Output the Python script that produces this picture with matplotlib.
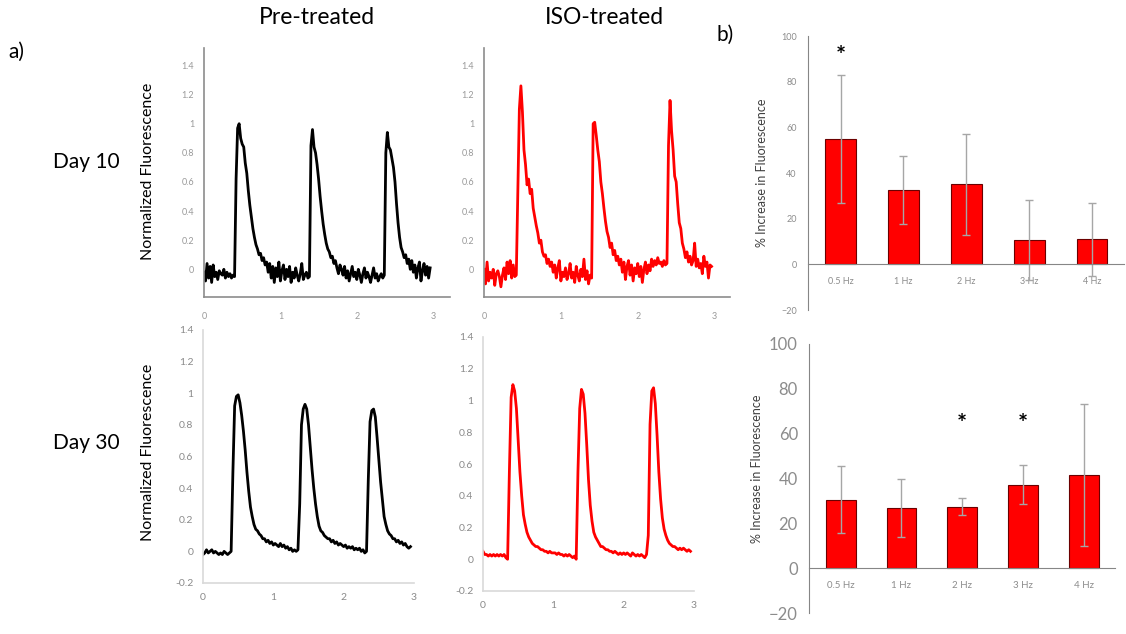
import numpy as np
import matplotlib
matplotlib.use('Agg')
import matplotlib.pyplot as plt

plt.rcParams['font.family'] = ['Lato', 'DejaVu Sans']

# ---- traces (time in s, normalized fluorescence) ----
t_day10 = np.round(np.arange(0, 2.961, 0.02), 3)
pre_day10 = [
    -0.02, -0.08, 0.04, -0.06, 0.02, -0.09, 0.03, -0.05, -0.02, -0.07,
    -0.01, -0.03, -0.04, 0.00, -0.06, -0.02, -0.05, -0.03, -0.06, -0.04,
    -0.05, 0.62, 0.97, 1.00, 0.90, 0.86, 0.84, 0.73, 0.66, 0.54,
    0.44, 0.36, 0.28, 0.22, 0.17, 0.14, 0.10, 0.11, 0.06, 0.08,
    0.03, 0.05, -0.02, 0.04, -0.06, 0.02, -0.09, 0.01, -0.05, 0.05,
    -0.08, -0.01, 0.03, -0.07, 0.00, -0.05, 0.02, -0.09, -0.02, -0.06,
    0.01, -0.04, -0.08, -0.03, 0.04, -0.07, -0.04, -0.02, -0.06, -0.05,
    0.85, 0.96, 0.84, 0.80, 0.72, 0.62, 0.50, 0.40, 0.31, 0.24,
    0.18, 0.14, 0.12, 0.08, 0.09, 0.04, 0.06, 0.01, -0.03, 0.03,
    0.00, -0.04, 0.02, -0.06, -0.01, -0.08, -0.03, 0.02, -0.05, -0.02,
    -0.07, 0.00, -0.04, -0.09, -0.03, 0.01, -0.06, -0.02, -0.05, -0.09,
    -0.04, 0.01, -0.06, -0.03, -0.08, -0.05, -0.03, -0.06, -0.04, 0.80,
    0.94, 0.84, 0.82, 0.76, 0.70, 0.60, 0.45, 0.32, 0.22, 0.15,
    0.12, 0.08, 0.10, 0.04, 0.07, 0.00, 0.06, -0.02, 0.03, -0.06,
    0.01, 0.05, -0.08, -0.01, 0.04, -0.04, 0.02, -0.06, 0.01,
]
iso_day10 = [
    0.00, -0.10, 0.05, -0.08, -0.02, -0.06, 0.00, -0.11, -0.03, -0.01,
    -0.05, -0.12, -0.04, 0.01, -0.07, 0.05, -0.03, 0.06, -0.06, 0.03,
    -0.05, -0.04, 0.55, 1.10, 1.26, 1.08, 0.82, 0.72, 0.58, 0.62,
    0.52, 0.55, 0.42, 0.36, 0.30, 0.25, 0.18, 0.20, 0.12, 0.09,
    0.10, 0.04, 0.07, 0.02, 0.05, -0.02, 0.03, -0.06, 0.01, 0.06,
    -0.08, -0.02, -0.05, 0.01, -0.07, -0.03, 0.04, -0.06, -0.02, -0.09,
    0.02, -0.04, -0.08, 0.00, -0.05, 0.07, -0.07, -0.01, -0.10, -0.04,
    -0.06, 1.00, 1.01, 0.92, 0.82, 0.74, 0.60, 0.52, 0.42, 0.33,
    0.26, 0.22, 0.15, 0.18, 0.10, 0.13, 0.06, 0.09, 0.03, 0.07,
    -0.02, 0.05, -0.07, 0.02, 0.06, -0.04, 0.03, -0.08, 0.01, -0.03,
    0.04, -0.05, 0.02, -0.09, 0.00, 0.05, -0.03, 0.03, -0.01, 0.07,
    0.02, 0.06, 0.03, 0.08, 0.04, 0.05, 0.02, 0.06, 0.03, 0.04,
    0.85, 1.16, 0.95, 0.82, 0.64, 0.60, 0.45, 0.32, 0.28, 0.18,
    0.14, 0.08, 0.12, 0.05, 0.09, 0.03, 0.06, 0.18, 0.02, 0.07,
    0.01, 0.04, -0.03, 0.09, 0.02, 0.05, -0.06, 0.03, 0.02,
]

t_day30 = np.round(np.arange(0, 2.951, 0.025), 3)
pre_day30 = [
    -0.02, -0.01, 0.01, -0.01, 0.00, 0.01, -0.01, 0.00,
    -0.01, -0.02, -0.01, -0.02, 0.00, -0.01, -0.02, -0.01,
    0.00, 0.50, 0.92, 0.98, 0.99, 0.94, 0.86, 0.76,
    0.64, 0.50, 0.38, 0.28, 0.22, 0.17, 0.14, 0.13,
    0.11, 0.10, 0.08, 0.08, 0.06, 0.07, 0.05, 0.06,
    0.04, 0.05, 0.04, 0.03, 0.05, 0.03, 0.04, 0.02,
    0.03, 0.01, 0.02, 0.00, 0.01, 0.00, 0.01, 0.30,
    0.80, 0.90, 0.93, 0.90, 0.80, 0.66, 0.52, 0.40,
    0.30, 0.22, 0.16, 0.13, 0.12, 0.10, 0.09, 0.08,
    0.08, 0.06, 0.07, 0.05, 0.06, 0.04, 0.05, 0.04,
    0.03, 0.04, 0.02, 0.03, 0.02, 0.03, 0.01, 0.02,
    0.01, 0.02, 0.00, 0.01, -0.01, 0.00, 0.45, 0.82,
    0.89, 0.90, 0.85, 0.72, 0.58, 0.44, 0.33, 0.22,
    0.17, 0.13, 0.11, 0.10, 0.08, 0.08, 0.06, 0.07,
    0.05, 0.06, 0.04, 0.05, 0.03, 0.02, 0.03,
]
iso_day30 = [
    0.05, 0.03, 0.03, 0.02, 0.03, 0.02, 0.03, 0.02,
    0.03, 0.02, 0.03, 0.02, 0.03, 0.01, 0.00, 0.55,
    1.02, 1.10, 1.06, 0.95, 0.75, 0.55, 0.40, 0.28,
    0.22, 0.17, 0.14, 0.12, 0.10, 0.09, 0.08, 0.08,
    0.07, 0.06, 0.06, 0.05, 0.05, 0.04, 0.05, 0.04,
    0.04, 0.04, 0.03, 0.04, 0.03, 0.03, 0.02, 0.03,
    0.02, 0.03, 0.02, 0.01, 0.02, 0.00, 0.55, 0.95,
    1.07, 1.04, 0.92, 0.72, 0.50, 0.34, 0.24, 0.17,
    0.14, 0.12, 0.10, 0.08, 0.08, 0.07, 0.06, 0.06,
    0.05, 0.05, 0.04, 0.05, 0.04, 0.03, 0.04, 0.03,
    0.04, 0.03, 0.04, 0.03, 0.02, 0.04, 0.03, 0.02,
    0.03, 0.02, 0.03, 0.02, 0.01, 0.03, 0.15, 0.85,
    1.06, 1.08, 0.98, 0.78, 0.55, 0.38, 0.26, 0.19,
    0.15, 0.12, 0.10, 0.09, 0.08, 0.08, 0.07, 0.06,
    0.07, 0.06, 0.07, 0.06, 0.05, 0.06, 0.05,
]

# ---- bar charts (% increase in fluorescence) ----
freqs = ['0.5 Hz', '1 Hz', '2 Hz', '3 Hz', '4 Hz']
inc_day10 = [55, 32.5, 35, 10.5, 11]
err_day10 = [28, 15, 22, 17.5, 16]
star_day10 = [0]
inc_day30 = [30.5, 26.7, 27.5, 37.3, 41.6]
err_day30 = [15, 13, 3.8, 8.7, 31.5]
star_day30 = [2, 3]

W, Hh = 1126, 634
fig = plt.figure(figsize=(W / 100, Hh / 100), dpi=100)


def box(l, r, t, b):
    return [l / W, 1 - b / Hh, (r - l) / W, (b - t) / Hh]


def trace(rect, t, y, color, ylim, yticks, xlim, spc, lab, fs):
    ax = fig.add_axes(rect)
    ax.plot(t, y, color=color, lw=2, solid_joinstyle='round')
    ax.set_xlim(xlim)
    ax.set_ylim(ylim)
    ax.set_yticks(yticks)
    ax.set_yticklabels([('%g' % v) for v in yticks])
    ax.set_xticks([0, 1, 2, 3])
    for s in ['top', 'right']:
        ax.spines[s].set_visible(False)
    for s in ['left', 'bottom']:
        ax.spines[s].set_color(spc)
        ax.spines[s].set_linewidth(1.2)
    ax.tick_params(length=0, labelsize=fs, colors=lab)
    ax.tick_params(axis='y', pad=7)
    ax.tick_params(axis='x', pad=11)
    return ax


ticks_top = [0, 0.2, 0.4, 0.6, 0.8, 1, 1.2, 1.4]
ticks_bot = [-0.2, 0, 0.2, 0.4, 0.6, 0.8, 1, 1.2, 1.4]

trace(box(204, 450, 48, 297), t_day10, pre_day10, 'black', (-0.19, 1.52),
      ticks_top, (0, 3.22), '#8c8c8c', '#9a9a9a', 6.5)
trace(box(484, 730, 48, 297), t_day10, iso_day10, '#ff0000', (-0.19, 1.52),
      ticks_top, (0, 3.2), '#8c8c8c', '#9a9a9a', 6.5)
a3 = trace(box(203, 414, 330, 583), t_day30, pre_day30, 'black', (-0.2, 1.4),
           ticks_bot, (0, 3.0), '#d9d9d9', '#8a8a8a', 7.5)
a4 = trace(box(483, 694, 337, 591), t_day30, iso_day30, '#ff0000', (-0.2, 1.4),
           ticks_bot, (0, 3.0), '#d9d9d9', '#8a8a8a', 7.5)
for a in (a3, a4):
    a.tick_params(axis='x', pad=7)


def bars(rect, vals, errs, stars, star_y, yfs, xfs):
    ax = fig.add_axes(rect)
    x = np.arange(len(freqs))
    ax.bar(x, vals, width=0.49, color='#ff0000', edgecolor='#6b0000', lw=0.8,
           yerr=errs, error_kw=dict(ecolor='#a6a6a6', elinewidth=1,
                                    capsize=3, capthick=1))
    for i in stars:
        ax.text(i, star_y, '*', ha='center', va='center', fontsize=17,
                color='black', fontweight='bold')
    ax.set_xlim(-0.52, 4.51)
    ax.set_ylim(-20, 100)
    ax.set_yticks(range(-20, 101, 20))
    ax.set_xticks(x)
    ax.set_xticklabels(freqs)
    ax.spines['bottom'].set_position(('data', 0))
    for s in ['top', 'right']:
        ax.spines[s].set_visible(False)
    ax.spines['left'].set_color('#868686')
    ax.spines['bottom'].set_color('#868686')
    ax.tick_params(length=0, colors='#8c8c8c')
    ax.tick_params(axis='y', labelsize=yfs, pad=8)
    ax.tick_params(axis='x', labelsize=xfs, pad=9)
    return ax


bars(box(808, 1124, 36, 310), inc_day10, err_day10, star_day10, 91, 6.5, 6.5)
bars(box(809, 1115, 344, 613), inc_day30, err_day30, star_day30, 64, 12, 7)

# ---- text labels ----
fig.text(317 / W, 1 - 18 / Hh, 'Pre-treated', ha='center', va='center', fontsize=16.5)
fig.text(604 / W, 1 - 18 / Hh, 'ISO-treated', ha='center', va='center', fontsize=16.5)
fig.text(8 / W, 1 - 52 / Hh, 'a)', ha='left', va='center', fontsize=15)
fig.text(717 / W, 1 - 35 / Hh, 'b)', ha='left', va='center', fontsize=15)
fig.text(86 / W, 1 - 162 / Hh, 'Day 10', ha='center', va='center', fontsize=15)
fig.text(86 / W, 1 - 443 / Hh, 'Day 30', ha='center', va='center', fontsize=15)
fig.text(148 / W, 1 - 171 / Hh, 'Normalized Fluorescence', rotation=90,
         ha='center', va='center', fontsize=11.5)
fig.text(148 / W, 1 - 452 / Hh, 'Normalized Fluorescence', rotation=90,
         ha='center', va='center', fontsize=11.5)
fig.text(762 / W, 1 - 173 / Hh, '% Increase in Fluorescence', rotation=90,
         ha='center', va='center', fontsize=9, color='#404040')
fig.text(757 / W, 1 - 469 / Hh, '% Increase in Fluorescence', rotation=90,
         ha='center', va='center', fontsize=9, color='#404040')

fig.savefig('out.png', dpi=100)
